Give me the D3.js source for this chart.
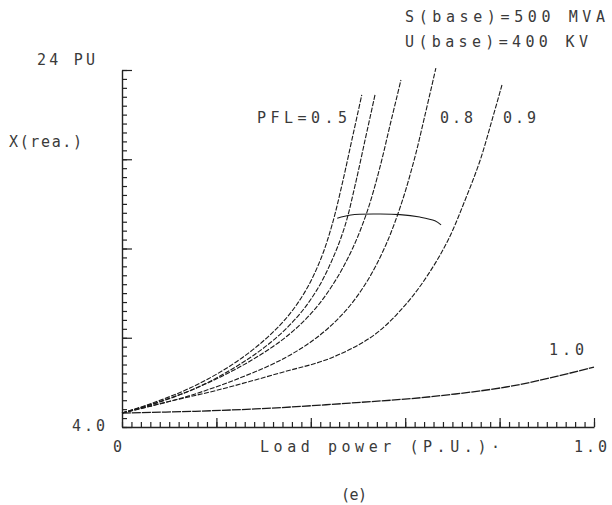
<!DOCTYPE html>
<html>
<head>
<meta charset="utf-8">
<script src="https://cdn.jsdelivr.net/npm/d3@7"></script>
<style>
  body { margin: 0; background: #fff; }
  text { font-family: "DejaVu Sans Mono", monospace; font-size: 15px; fill: #3a3a3a; }
</style>
</head>
<body>
<div id="chart"></div>
<script>
const width = 612;
const height = 505;

// plot frame (pixels)
const plot = {left: 122, right: 594, top: 70, bottom: 427};

// axis ranges and tick labels
const xDomain = [0, 1.0];
const yDomain = [4.0, 24];
const xTickLabels = ["0", "1.0"];
const yTickLabels = ["4.0", "24 PU"];

// power factor series (load power P.U., X reactance P.U.)
const pfLabels = ["PFL=0.5", "0.6", "0.7", "0.8", "0.9", "1.0"];
const pf05 = [[0,4.78],[0.059,5.29],[0.144,6.18],[0.229,7.42],[0.297,8.76],[0.350,10.16],[0.390,11.68],[0.422,13.47],[0.445,15.32],[0.466,17.56],[0.487,20.08],[0.508,22.60]];
const pf06 = [[0,4.78],[0.064,5.29],[0.157,6.18],[0.244,7.42],[0.316,8.76],[0.371,10.16],[0.413,11.68],[0.447,13.47],[0.473,15.32],[0.494,17.56],[0.515,20.08],[0.536,22.60]];
const pf07 = [[0,4.78],[0.087,5.46],[0.186,6.52],[0.275,7.75],[0.350,9.10],[0.407,10.55],[0.453,12.24],[0.489,14.03],[0.519,16.04],[0.545,18.40],[0.568,20.92],[0.591,23.44]];
const pf08 = [[0,4.78],[0.134,5.68],[0.250,6.75],[0.345,7.87],[0.417,9.10],[0.475,10.55],[0.521,12.24],[0.559,14.20],[0.591,16.44],[0.619,18.96],[0.642,21.48],[0.665,24.11]];
const pf09 = [[0,4.78],[0.095,5.40],[0.203,6.07],[0.335,7.03],[0.443,7.87],[0.534,9.15],[0.600,10.83],[0.648,12.52],[0.691,14.48],[0.727,16.72],[0.759,18.96],[0.784,21.20],[0.805,23.16]];
const pf10 = [[0,4.78],[0.155,4.88],[0.318,5.06],[0.483,5.34],[0.648,5.68],[0.814,6.24],[0.907,6.75],[1.0,7.36]];
// limit curve crossing the family
const limitCurve = [[0.456,15.70],[0.485,15.88],[0.540,15.93],[0.589,15.90],[0.631,15.76],[0.663,15.55],[0.676,15.32]];

const svg = d3.select("#chart").append("svg")
  .attr("width", width)
  .attr("height", height);

const x = d3.scaleLinear().domain(xDomain).range([plot.left, plot.right]);
const y = d3.scaleLinear().domain(yDomain).range([plot.bottom, plot.top]);

// y axis: ticks pointing right, minor every 0.5, major every 5
const yMinor = d3.range(4, 24.01, 0.5);
const yMajor = d3.range(4, 24.01, 5);
svg.append("g")
  .attr("transform", `translate(${plot.left},0)`)
  .call(d3.axisRight(y).tickValues(yMinor).tickSize(5).tickSizeOuter(0).tickFormat(""))
  .call(g => g.select(".domain").attr("stroke", "#222").attr("stroke-width", 1.4));
svg.append("g")
  .attr("transform", `translate(${plot.left},0)`)
  .call(d3.axisRight(y).tickValues(yMajor).tickSize(10).tickSizeOuter(0).tickFormat(""))
  .call(g => g.select(".domain").remove());

// x axis: ticks pointing up, minor every 0.02, major every 0.2
const xMinor = d3.range(0, 1.0001, 0.02);
const xMajor = d3.range(0.2, 1.0001, 0.2);
svg.append("g")
  .attr("transform", `translate(0,${plot.bottom})`)
  .call(d3.axisTop(x).tickValues(xMinor).tickSize(5).tickSizeOuter(0).tickFormat(""))
  .call(g => g.select(".domain").attr("stroke", "#222").attr("stroke-width", 1.4));
svg.append("g")
  .attr("transform", `translate(0,${plot.bottom})`)
  .call(d3.axisTop(x).tickValues(xMajor).tickSize(9).tickSizeOuter(0).tickFormat(""))
  .call(g => g.select(".domain").remove());

svg.selectAll(".tick line").attr("stroke", "#222").attr("stroke-width", 1.2);

// curves
const line = d3.line()
  .x(d => x(d[0]))
  .y(d => y(d[1]))
  .curve(d3.curveCatmullRom.alpha(0.5));

const series = [pf05, pf06, pf07, pf08, pf09];
svg.selectAll("path.pf")
  .data(series)
  .join("path")
  .attr("class", "pf")
  .attr("fill", "none")
  .attr("stroke", "#1a1a1a")
  .attr("stroke-width", 1.1)
  .attr("stroke-dasharray", "5,1.5")
  .attr("d", line);

svg.append("path")
  .datum(pf10)
  .attr("fill", "none")
  .attr("stroke", "#1a1a1a")
  .attr("stroke-width", 1.3)
  .attr("stroke-dasharray", "9,1")
  .attr("d", line);

svg.append("path")
  .datum(limitCurve)
  .attr("fill", "none")
  .attr("stroke", "#1a1a1a")
  .attr("stroke-width", 1.1)
  .attr("d", line);

// text helper: fixed span like the plotter lettering
function label(str, x0, y0, span) {
  svg.append("text")
    .attr("x", x0)
    .attr("y", y0)
    .attr("textLength", span)
    .attr("lengthAdjust", "spacing")
    .text(str);
}

// axis labels
label(yTickLabels[1], 37, 65, 58);
label(yTickLabels[0], 72, 431, 33);
label("X(rea.)", 9, 147, 73);
label(xTickLabels[0], 113, 452, 9);
label(xTickLabels[1], 574, 452, 33);
label("Load power (P.U.)·", 260, 452, 240);

// curve labels
label(pfLabels[0], 257, 123, 90);
label(pfLabels[3], 440, 123, 33);
label(pfLabels[4], 503, 123, 33);
label(pfLabels[5], 549, 355, 35);

// base values
label("S(base)=500 MVA", 405, 22, 200);
label("U(base)=400 KV", 405, 47, 183);

// caption
label("(e)", 341, 500, 26);
</script>
</body>
</html>
